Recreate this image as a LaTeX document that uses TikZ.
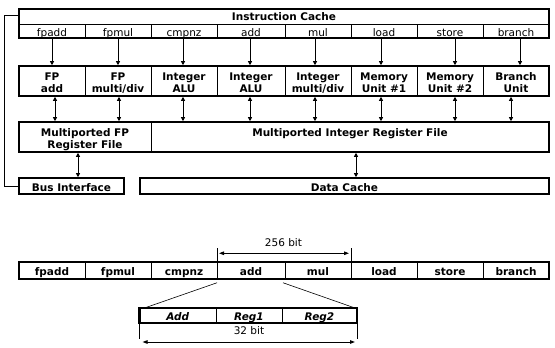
\documentclass[tikz,border=0pt]{standalone}
\usepackage{fontspec}
\setmainfont{DejaVu Sans}
\usetikzlibrary{arrows.meta,calc}
\newcommand\myreg{\fontsize{10.5}{12}\selectfont}
\newcommand\mybold{\fontsize{10.5}{12}\selectfont\bfseries}
\newcommand\mybi{\fontsize{10.5}{12}\selectfont\bfseries\itshape}
\newcommand\twolines[2]{\rule[-3.6pt]{0pt}{18pt}#1\\\rule[-3.6pt]{0pt}{12pt}#2}
\begin{document}
\begin{tikzpicture}[x=1pt,y=-1pt,
  frame/.style={draw,line width=2.4pt,inner sep=0pt,outer sep=0pt},
  cell/.style={inner sep=0pt,outer sep=0pt,align=center,font=\mybold},
  oneline/.style={text height=10.5pt,text depth=0pt},
  divider/.style={line width=1pt},
  thin/.style={line width=0.9pt},
  down/.style={line width=1pt,-{Triangle[length=4pt,width=4pt]},shorten >=0.8pt},
  dbl/.style={line width=1pt,{Triangle[length=4pt,width=4pt]}-{Triangle[length=4pt,width=4pt]},shorten >=0.8pt,shorten <=0.8pt},
  dim/.style={line width=0.9pt,{Triangle[length=5pt,width=3.5pt]}-{Triangle[length=5pt,width=3.5pt]}}
]
\useasboundingbox (0,0) rectangle (555,348);

% Instruction cache
\node[frame,minimum width=530,minimum height=29] (ic) at (284,23.5) {};
\node[cell,oneline] (ict) at (284,15.5) {Instruction Cache};
\node[inner sep=0pt,outer sep=0pt,minimum width=530,minimum height=13.5] (ilab) at (284,31.25) {};
\draw[divider] (ilab.north west) -- (ilab.north east);
\foreach \i/\a/\b/\t in {1/19/85/fpadd,2/85/151/fpmul,3/151/217/cmpnz,4/217/285/add,5/285/351/mul,6/351/417/load,7/417/483/store,8/483/549/branch}{
  \pgfmathsetmacro\c{(\a+\b)/2}
  \pgfmathsetmacro\w{\b-\a}
  \node[cell,oneline,font=\myreg,minimum width=\w,minimum height=13.5] (l\i) at (\c,31.25) {\t};
}
\foreach \i in {1,...,7}{\draw[divider] (l\i.north east) -- (l\i.south east);}

% Functional units
\node[frame,minimum width=530,minimum height=30] (ur) at (284,81) {};
\foreach \i/\a/\b/\t in {1/19/85/{\twolines{FP}{add}},2/85/151/{\twolines{FP}{multi/div}},3/151/217/{\twolines{Integer}{ALU}},4/217/285/{\twolines{Integer}{ALU}},5/285/351/{\twolines{Integer}{multi/div}},6/351/417/{\twolines{Memory}{Unit \#1}},7/417/483/{\twolines{Memory}{Unit \#2}},8/483/549/{\twolines{Branch}{Unit}}}{
  \pgfmathsetmacro\c{(\a+\b)/2}
  \pgfmathsetmacro\w{\b-\a}
  \node[cell,minimum width=\w,minimum height=30] (u\i) at (\c,81) {\t};
}
\foreach \i in {1,...,7}{\draw[divider] (u\i.north east) -- (u\i.south east);}

% Register files
\node[frame,minimum width=530,minimum height=30] (rfb) at (284,137) {};
\node[cell,minimum width=132,minimum height=30] (rf) at (85,137) {\twolines{Multiported FP}{Register File}};
\node[inner sep=0pt,outer sep=0pt,minimum width=398,minimum height=30] (ri) at (350,137) {};
\node[cell,oneline] (rit) at (350,131.5) {Multiported Integer Register File};
\draw[divider] (rf.north east) -- (rf.south east);

% Bus interface and data cache
\node[frame,cell,oneline,minimum width=105,minimum height=16] (bus) at (71.5,186) {Bus Interface};
\node[frame,cell,oneline,minimum width=409,minimum height=16] (dc) at (344.5,186) {Data Cache};

% Arrows: instruction cache -> units
\foreach \i/\o in {1/0,2/0,3/-1,4/-1,5/-3,6/-3,7/5,8/4}{
  \draw[down] ([xshift=\o pt]l\i.south) -- ([xshift=\o pt]u\i.north);
}
% Arrows: units <-> register files
\foreach \i/\o in {1/3,2/1,3/-1,4/-1,5/-3,6/-3,7/5,8/-5}{
  \draw[dbl] ([xshift=\o pt]u\i.south) -- ([xshift=\o pt]u\i.south |- ri.north);
}
\draw[dbl] ([xshift=-7pt]rf.south) -- ([xshift=-7pt]rf.south |- bus.north);
\draw[dbl] ([xshift=6pt]ri.south) -- ([xshift=6pt]ri.south |- dc.north);

% Left connector
\draw[thin] ([yshift=-6pt]ic.north west) -- ++(-15,0) |- (bus.west);

% Instruction word
\node[frame,minimum width=530,minimum height=16.5] (wb) at (284,270.5) {};
\foreach \i/\a/\b/\t in {1/19/85/fpadd,2/85/151/fpmul,3/151/217/cmpnz,4/217/285/add,5/285/351/mul,6/351/417/load,7/417/483/store,8/483/549/branch}{
  \pgfmathsetmacro\c{(\a+\b)/2}
  \pgfmathsetmacro\w{\b-\a}
  \node[cell,oneline,minimum width=\w,minimum height=16.5] (w\i) at (\c,270.5) {\t};
}
\foreach \i in {1,...,7}{\draw[divider] (w\i.north east) -- (w\i.south east);}

% 256 bit dimension
\draw[thin] (w4.north west) -- ++(0,-14);
\draw[thin] (w5.north east) -- ++(0,-14);
\draw[dim] ([xshift=2pt,yshift=9pt]w4.north west) -- ([xshift=-2pt,yshift=9pt]w5.north east);
\node[font=\myreg,inner sep=0pt] (l256) at (283.5,243) {256 bit};

% Operation format
\node[frame,minimum width=217.5,minimum height=15] (sb) at (248.25,315.5) {};
\node[cell,oneline,font=\mybi,minimum width=76.5,minimum height=15] (s1) at (177.75,315.5) {Add};
\node[cell,oneline,font=\mybi,minimum width=66,minimum height=15] (s2) at (249,315.5) {Reg1};
\node[cell,oneline,font=\mybi,minimum width=75,minimum height=15] (s3) at (319.5,315.5) {Reg2};
\draw[divider] (s1.north east) -- (s1.south east);
\draw[divider] (s2.north east) -- (s2.south east);

% Zoom lines
\draw[line width=0.6pt] ([yshift=-4pt]w4.south west) -- ([xshift=5pt]sb.north west);
\draw[line width=0.6pt] ([xshift=-2pt,yshift=-4pt]w4.south east) -- ([xshift=-2pt]sb.north east);

% 32 bit dimension
\draw[thin] (sb.south west) -- ++(0,16);
\draw[thin] (sb.south east) -- ++(0,16);
\draw[dim] ([xshift=3pt,yshift=-19pt]sb.south west) -- ([xshift=-2pt,yshift=-19pt]sb.south east);
\node[font=\myreg,inner sep=0pt] (l32) at (249,331) {32 bit};
\end{tikzpicture}
\end{document}
